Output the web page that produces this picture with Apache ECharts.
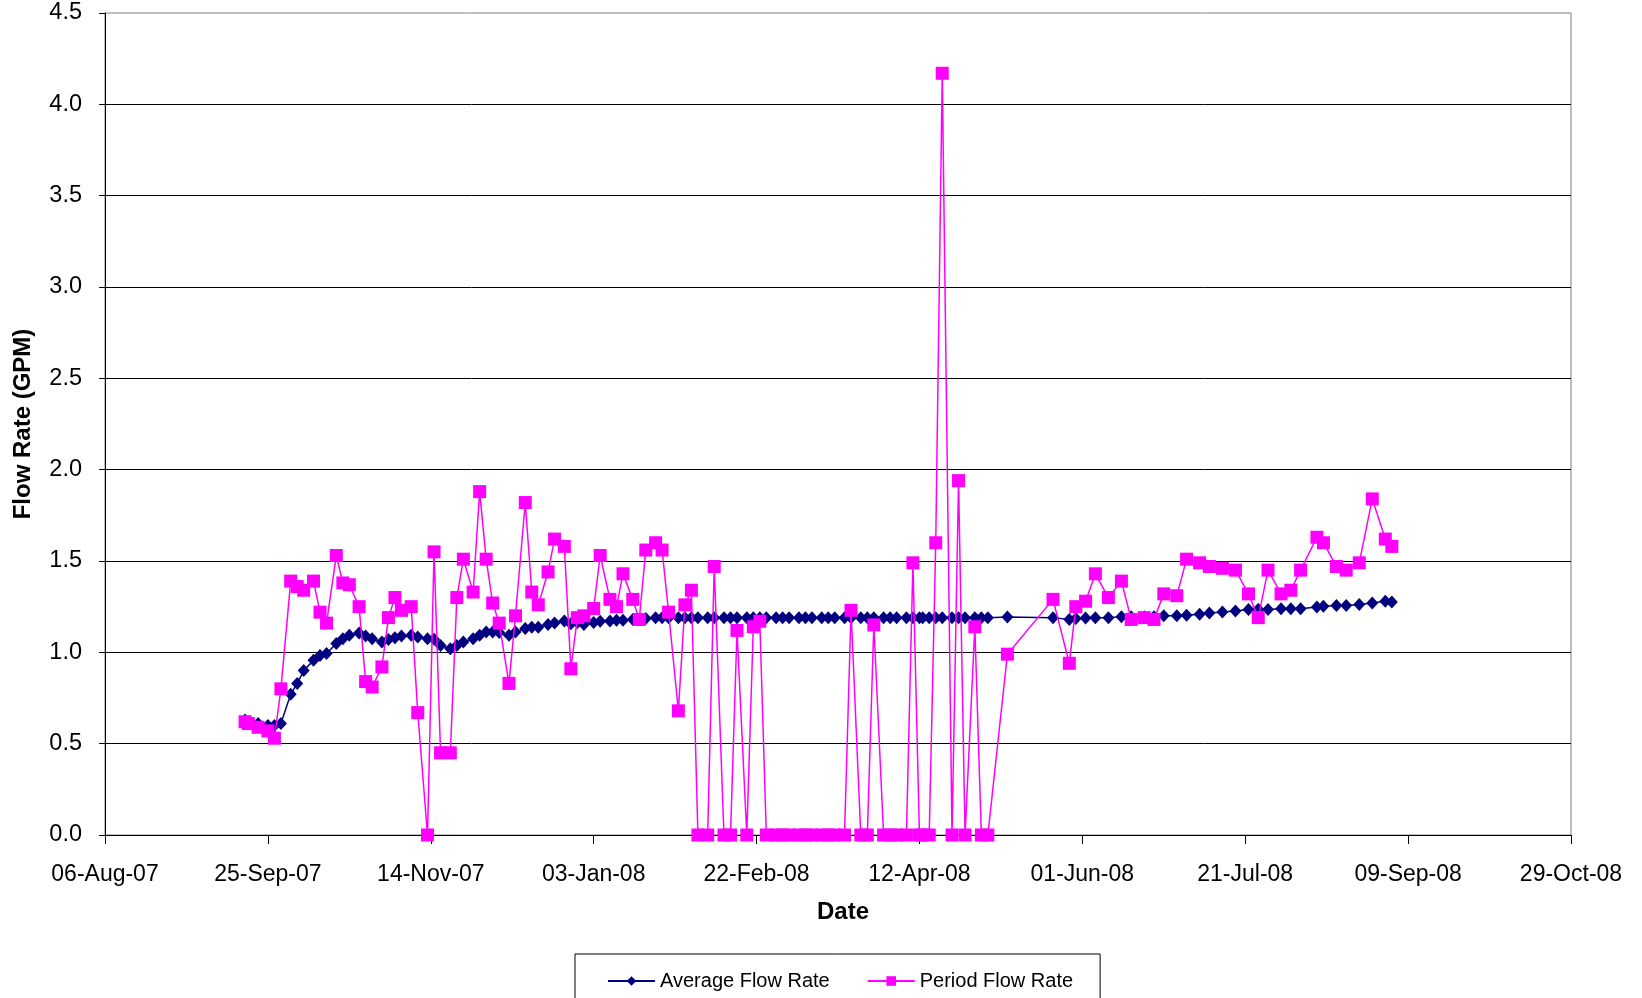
<!DOCTYPE html>
<html>
<head>
<meta charset="utf-8">
<script src="https://cdn.jsdelivr.net/npm/echarts@6/dist/echarts.min.js"></script>
<style>
html,body{margin:0;padding:0;background:#fff;}
#chart{width:1642px;height:998px;}
</style>
</head>
<body>
<div id="chart"></div>
<script>
// ---- data ----
const dates = [
'2007-09-18','2007-09-19','2007-09-22','2007-09-25','2007-09-27','2007-09-29',
'2007-10-02','2007-10-04','2007-10-06','2007-10-09','2007-10-11','2007-10-13','2007-10-16','2007-10-18','2007-10-20','2007-10-23','2007-10-25','2007-10-27','2007-10-30',
'2007-11-01','2007-11-03','2007-11-05','2007-11-08','2007-11-10','2007-11-13','2007-11-15','2007-11-17','2007-11-20','2007-11-22','2007-11-24','2007-11-27','2007-11-29',
'2007-12-01','2007-12-03','2007-12-05','2007-12-08','2007-12-10','2007-12-13','2007-12-15','2007-12-17','2007-12-20','2007-12-22','2007-12-25','2007-12-27','2007-12-29','2007-12-31',
'2008-01-03','2008-01-05','2008-01-08','2008-01-10','2008-01-12','2008-01-15','2008-01-17','2008-01-19','2008-01-22','2008-01-24','2008-01-26','2008-01-29','2008-01-31',
'2008-02-02','2008-02-04','2008-02-07','2008-02-09','2008-02-12','2008-02-14','2008-02-16','2008-02-19','2008-02-21','2008-02-23','2008-02-25','2008-02-28',
'2008-03-01','2008-03-03','2008-03-06','2008-03-08','2008-03-10','2008-03-13','2008-03-15','2008-03-17','2008-03-20','2008-03-22','2008-03-25','2008-03-27','2008-03-29',
'2008-04-01','2008-04-03','2008-04-05','2008-04-08','2008-04-10','2008-04-12','2008-04-13','2008-04-15','2008-04-17','2008-04-19','2008-04-22','2008-04-24','2008-04-26','2008-04-29',
'2008-05-01','2008-05-03','2008-05-09','2008-05-23','2008-05-28','2008-05-30',
'2008-06-02','2008-06-05','2008-06-09','2008-06-13','2008-06-16','2008-06-20','2008-06-23','2008-06-26','2008-06-30',
'2008-07-03','2008-07-07','2008-07-10','2008-07-14','2008-07-18','2008-07-22','2008-07-25','2008-07-28',
'2008-08-01','2008-08-04','2008-08-07','2008-08-12','2008-08-14','2008-08-18','2008-08-21','2008-08-25','2008-08-29',
'2008-09-02','2008-09-04'
];

const periodFlow = [
0.62,0.61,0.59,0.57,0.53,0.80,
1.39,1.36,1.34,1.39,1.22,1.16,1.53,1.38,1.37,1.25,0.84,0.81,0.92,
1.19,1.30,1.23,1.25,0.67,0.00,1.55,0.45,0.45,1.30,1.51,1.33,1.88,
1.51,1.27,1.16,0.83,1.20,1.82,1.33,1.26,1.44,1.62,1.58,0.91,1.19,1.20,
1.24,1.53,1.29,1.25,1.43,1.29,1.18,1.56,1.60,1.56,1.22,0.68,1.26,
1.34,0,0,1.47,0,0,1.12,0,1.14,1.17,0,0,
0,0,0,0,0,0,0,0,0,1.23,0,0,1.15,
0,0,0,0,1.49,0,0,0,1.60,4.17,0,1.94,0,1.14,
0,0,0.99,1.29,0.94,1.25,
1.28,1.43,1.30,1.39,1.18,1.19,1.18,1.32,1.31,
1.51,1.49,1.47,1.46,1.45,1.32,1.19,1.45,
1.32,1.34,1.45,1.63,1.60,1.47,1.45,1.49,1.84,
1.62,1.58
];

const averageFlow = [
0.63,0.62,0.61,0.60,0.60,0.61,
0.77,0.83,0.90,0.956,0.983,0.993,1.048,1.075,1.093,1.106,1.089,1.075,1.057,
1.07,1.08,1.089,1.093,1.084,1.075,1.071,1.038,1.02,1.038,1.057,1.075,1.093,
1.111,1.111,1.108,1.093,1.111,1.13,1.138,1.138,1.152,1.16,1.171,1.157,1.163,1.153,
1.163,1.17,1.171,1.175,1.175,1.18,1.18,1.185,1.19,1.19,1.19,1.19,1.19,
1.19,1.19,1.19,1.19,1.19,1.19,1.19,1.19,1.19,1.19,1.19,1.19,
1.19,1.19,1.19,1.19,1.19,1.19,1.19,1.19,1.19,1.19,1.19,1.19,1.19,
1.19,1.19,1.19,1.19,1.19,1.19,1.19,1.19,1.19,1.19,1.19,1.19,1.19,1.19,
1.19,1.19,1.193,1.19,1.18,1.185,
1.188,1.19,1.19,1.195,1.195,1.195,1.195,1.20,1.20,
1.203,1.208,1.215,1.221,1.226,1.234,1.236,1.234,
1.239,1.239,1.239,1.248,1.252,1.257,1.257,1.262,1.27,
1.28,1.275
];

const xTickLabels = ['06-Aug-07','25-Sep-07','14-Nov-07','03-Jan-08','22-Feb-08','12-Apr-08','01-Jun-08','21-Jul-08','09-Sep-08','29-Oct-08'];
const yTickLabels = ['0.0','0.5','1.0','1.5','2.0','2.5','3.0','3.5','4.0','4.5'];

// Excel-style serial day numbers (06-Aug-07 = 39300)
function serial(s){
  const p = s.split('-').map(Number);
  return Math.round((Date.UTC(p[0], p[1]-1, p[2]) - Date.UTC(1899, 11, 30)) / 86400000);
}
const X_MIN = 39300, X_STEP = 50;

const avgData = dates.map((d,i)=>[serial(d), averageFlow[i]]);
const perData = dates.map((d,i)=>[serial(d), periodFlow[i]]);

const FONT = '"Liberation Sans", Arial, sans-serif';

const chart = echarts.init(document.getElementById('chart'), null, {renderer:'canvas'});
chart.setOption({
  backgroundColor:'#ffffff',
  animation:false,
  textStyle:{fontFamily:FONT, color:'#000'},
  grid:{left:105, right:71, top:13, bottom:163, containLabel:false, outerBoundsMode:'none',
        show:true, borderColor:'#808080', borderWidth:1, backgroundColor:'transparent'},
  xAxis:{
    type:'value', min:X_MIN, max:X_MIN + X_STEP*(xTickLabels.length-1), interval:X_STEP,
    name:'Date', nameLocation:'middle', nameGap:65,
    nameTextStyle:{fontFamily:FONT, fontSize:24, fontWeight:'bold', color:'#000', padding:[0,0,0,10]},
    axisLine:{show:true, onZero:false, lineStyle:{color:'#000', width:1}},
    axisTick:{show:true, inside:false, length:9, lineStyle:{color:'#000', width:1}},
    axisLabel:{fontFamily:FONT, fontSize:23, color:'#000', margin:28,
      formatter:function(v){ return xTickLabels[Math.round((v - X_MIN)/X_STEP)] || ''; }},
    splitLine:{show:false}
  },
  yAxis:{
    type:'value', min:0, max:4.5, interval:0.5,
    name:'Flow Rate (GPM)', nameLocation:'middle', nameGap:70, nameRotate:90,
    nameTextStyle:{fontFamily:FONT, fontSize:24, fontWeight:'bold', color:'#000'},
    axisLine:{show:true, lineStyle:{color:'#000', width:1}},
    axisTick:{show:true, inside:false, length:6, lineStyle:{color:'#000', width:1}},
    axisLabel:{fontFamily:FONT, fontSize:23.5, color:'#000', margin:23,
      formatter:function(v){ return yTickLabels[Math.round(v/0.5)] || ''; }},
    splitLine:{show:true, showMaxLine:false, lineStyle:{color:'#000', width:1}}
  },
  legend:{
    left:575, top:954,
    padding:[17, 27, 40, 32],
    borderColor:'#000', borderWidth:1,
    itemWidth:47, itemHeight:12, itemGap:37,
    textStyle:{fontFamily:FONT, fontSize:20, color:'#000'},
    data:['Average Flow Rate','Period Flow Rate']
  },
  series:[
    {
      name:'Average Flow Rate', type:'line', data:avgData,
      symbol:'diamond', symbolSize:[12,13],
      itemStyle:{color:'#000080'},
      lineStyle:{color:'#000080', width:1.5},
      z:2
    },
    {
      name:'Period Flow Rate', type:'line', data:perData,
      symbol:'rect', symbolSize:13,
      itemStyle:{color:'#FF00FF'},
      lineStyle:{color:'#FF00FF', width:1.5},
      z:3
    }
  ]
});
</script>
</body>
</html>
